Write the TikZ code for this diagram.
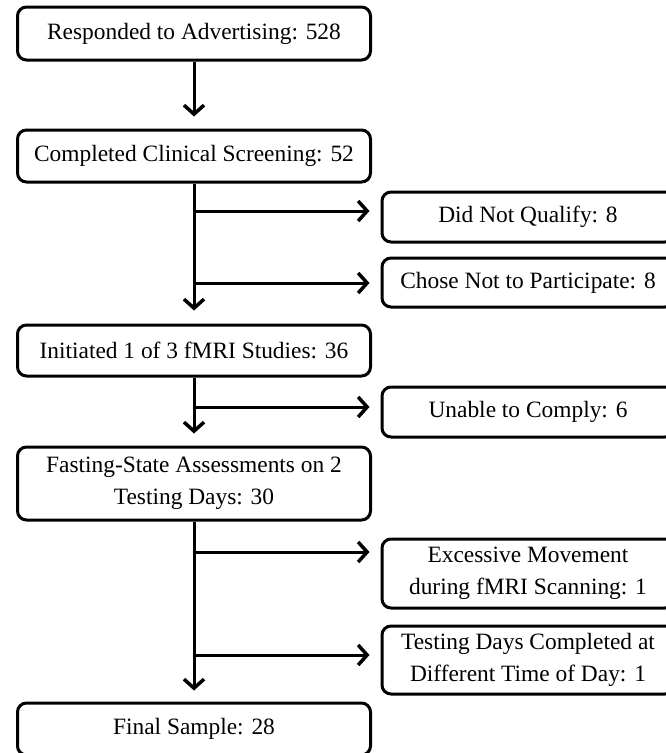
\documentclass[tikz,border=0pt]{standalone}
\usepackage{fontspec}
\setmainfont{Liberation Serif}
\usetikzlibrary{arrows.meta,positioning}

\tikzset{
  stagebox/.style={draw, line width=3pt, rounded corners=9pt, align=center,
    minimum width=353pt, inner sep=0pt,
    font=\fontsize{23.4}{31.5}\selectfont},
  exitbox/.style={stagebox, minimum width=292pt},
  flow/.style={line width=3pt, -{Straight Barb[length=9pt,width=20pt,line width=3.5pt]}}
}

\begin{document}
\begin{tikzpicture}[x=1pt,y=-1pt]
\useasboundingbox (0,0) rectangle (665,753);

% Main stages
\node[stagebox, minimum height=53pt] (advert) at (194,33.5) {Responded to Advertising: 528};
\node[stagebox, minimum height=52pt] (screen) at (194,156) {Completed Clinical Screening: 52};
\node[stagebox, minimum height=51pt] (initiated) at (194,350.5) {Initiated 1 of 3 fMRI Studies: 36};
\node[stagebox, minimum height=73pt] (fasting) at (194,483.5) {Fasting-State Assessments on 2\\Testing Days: 30};
\node[stagebox, minimum height=52pt] (final) at (194,729) {Final Sample: 28};

% Exclusions
\node[exitbox, minimum height=50pt] (noqual) at (528,217) {Did Not Qualify: 8};
\node[exitbox, minimum height=49pt] (declined) at (528,282.5) {Chose Not to Participate: 8};
\node[exitbox, minimum height=50pt] (comply) at (528,412) {Unable to Comply: 6};
\node[exitbox, minimum height=69pt] (movement) at (528,573.5) {Excessive Movement\\during fMRI Scanning: 1};
\node[exitbox, minimum height=68pt] (timeofday) at (528,660) {Testing Days Completed at\\Different Time of Day: 1};

% Branch points on the main line
\coordinate (b1) at (194,211);
\coordinate (b2) at (194,283);
\coordinate (b3) at (194,407);
\coordinate (b4) at (194,552);
\coordinate (b5) at (194,655);

% Main flow
\draw[flow, shorten >=12pt] (advert) -- (screen);
\draw[flow, shorten >=13pt] (screen) -- (initiated);
\draw[flow, shorten >=12pt] (initiated) -- (fasting);
\draw[flow, shorten >=11pt] (fasting) -- (final);

% Drop-outs
\draw[flow, shorten >=11pt] (b1) -- (b1 -| noqual.west);
\draw[flow, shorten >=11pt] (b2) -- (b2 -| declined.west);
\draw[flow, shorten >=11pt] (b3) -- (b3 -| comply.west);
\draw[flow, shorten >=11pt] (b4) -- (b4 -| movement.west);
\draw[flow, shorten >=11pt] (b5) -- (b5 -| timeofday.west);

\end{tikzpicture}
\end{document}
